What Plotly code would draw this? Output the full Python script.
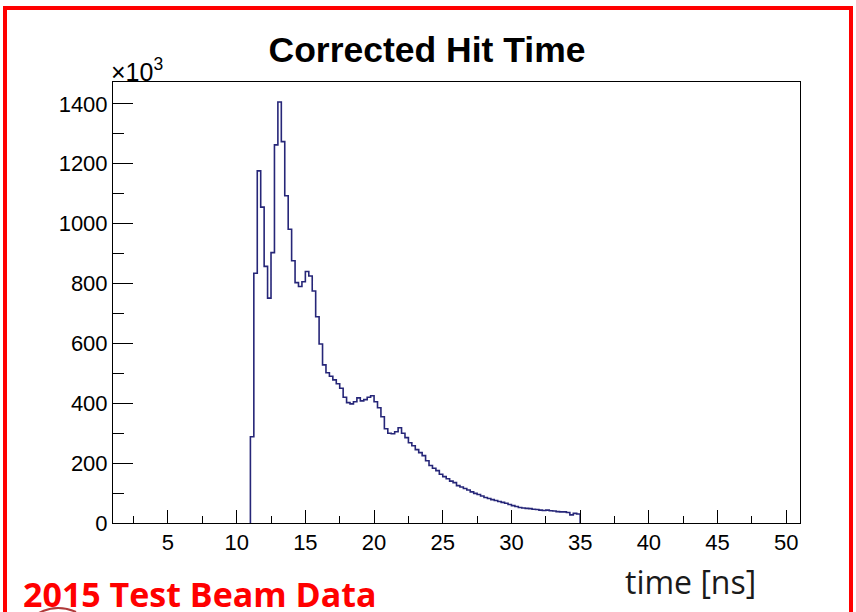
import numpy as np
import plotly.graph_objects as go

# ---- data (counts in units of 10^3), 0.25 ns bins starting at 11 ns ----
bin_low = 11.0
bin_width = 0.25
counts = [
    288, 834, 1176, 1055, 857, 751, 903, 1263, 1406, 1274,
    1093, 981, 876, 803, 790, 806, 840, 825, 775, 689,
    598, 528, 502, 490, 478, 465, 450, 420, 402, 398,
    405, 418, 408, 412, 420, 425, 405, 385, 355, 315,
    300, 298, 305, 318, 300, 285, 268, 258, 245, 235,
    225, 208, 192, 183, 175, 163, 155, 148, 140, 135,
    125, 120, 115, 110, 104, 99, 95, 90, 85, 82,
    78, 75, 72, 69, 66, 62, 58, 55, 52, 50,
    49, 48, 46, 45, 43, 42, 43, 41, 40, 38,
    37, 37, 35, 27, 32, 30,
]
x_range = [1.0, 51.0]
y_range = [0, 1473]
x_tick_vals = [5, 10, 15, 20, 25, 30, 35, 40, 45, 50]
y_tick_vals = [0, 200, 400, 600, 800, 1000, 1200, 1400]

title_text = "Corrected Hit Time"
x_title = "time [ns]"
label_text = "2015 Test Beam Data"

# ---- layout geometry (pixels) ----
W, H = 856, 612
L, R, T, B = 113, 800, 82, 523


def px(xp):
    return (xp - L) / (R - L)


def py(yp):
    return (B - yp) / (B - T)


edges = bin_low + bin_width * np.arange(len(counts) + 1)
xs = np.concatenate([[edges[0]], edges])
ys = np.concatenate([[0], counts, [0]])

fig = go.Figure()
fig.add_trace(go.Scatter(
    x=xs, y=ys, mode="lines", line_shape="hv",
    line=dict(color="#262678", width=1.6),
    hoverinfo="skip", showlegend=False, cliponaxis=True,
))

axis_font = dict(family="Liberation Sans, Arial, sans-serif", size=22, color="#000")

fig.update_layout(
    width=W, height=H,
    margin=dict(l=L, r=W - R, t=T, b=H - B, pad=0),
    paper_bgcolor="white", plot_bgcolor="white",
    showlegend=False,
    title=dict(text="<b>" + title_text + "</b>", x=427 / W, xanchor="center",
               y=1 - 50 / H, yanchor="middle",
               font=dict(family="Liberation Sans, Arial, sans-serif", size=35.5, color="#000")),
    xaxis=dict(
        range=x_range, showgrid=False, zeroline=False,
        showline=True, linecolor="#000", linewidth=1, mirror=True,
        ticks="inside", ticklen=13, tickcolor="#000", tickwidth=1,
        tickvals=x_tick_vals, ticktext=[str(v) for v in x_tick_vals],
        tickfont=axis_font,
        minor=dict(ticks="inside", ticklen=7, tickcolor="#000", dtick=2.5, tick0=0, showgrid=False),
    ),
    yaxis=dict(
        range=y_range, showgrid=False, zeroline=False,
        showline=True, linecolor="#000", linewidth=1, mirror=True,
        ticks="inside", ticklen=20, tickcolor="#000", tickwidth=1,
        tickvals=y_tick_vals, ticktext=[str(v) for v in y_tick_vals],
        tickfont=axis_font,
        minor=dict(ticks="inside", ticklen=11, tickcolor="#000", dtick=100, tick0=0, showgrid=False),
    ),
)

annotations = [
    dict(text="×10<sup>3</sup>", x=px(109), y=py(70), xref="paper", yref="paper",
         xanchor="left", yanchor="middle", showarrow=False,
         font=dict(family="Liberation Sans, Arial, sans-serif", size=25, color="#000")),
    dict(text=x_title, x=px(758), y=py(581), xref="paper", yref="paper",
         xanchor="right", yanchor="middle", showarrow=False,
         font=dict(family="Open Sans, sans-serif", size=32, color="#1a1a1a")),
    dict(text="<b>" + label_text + "</b>", x=px(21), y=py(594), xref="paper", yref="paper",
         xanchor="left", yanchor="middle", showarrow=False,
         font=dict(family="Open Sans, sans-serif", size=34, color="#ff0000")),
]
fig.update_layout(annotations=annotations)

shapes = [
    dict(type="rect", xref="paper", yref="paper",
         x0=px(5), x1=px(851), y0=py(640), y1=py(8),
         line=dict(color="#ff0000", width=4), fillcolor="rgba(0,0,0,0)", layer="above"),
    dict(type="path", xref="paper", yref="paper",
         path="M {} {} Q {} {} {} {}".format(px(37), py(614), px(56), py(603), px(76), py(612)),
         line=dict(color="#b03a3a", width=2)),
]
fig.update_layout(shapes=shapes)

fig.write_html("out.html")
